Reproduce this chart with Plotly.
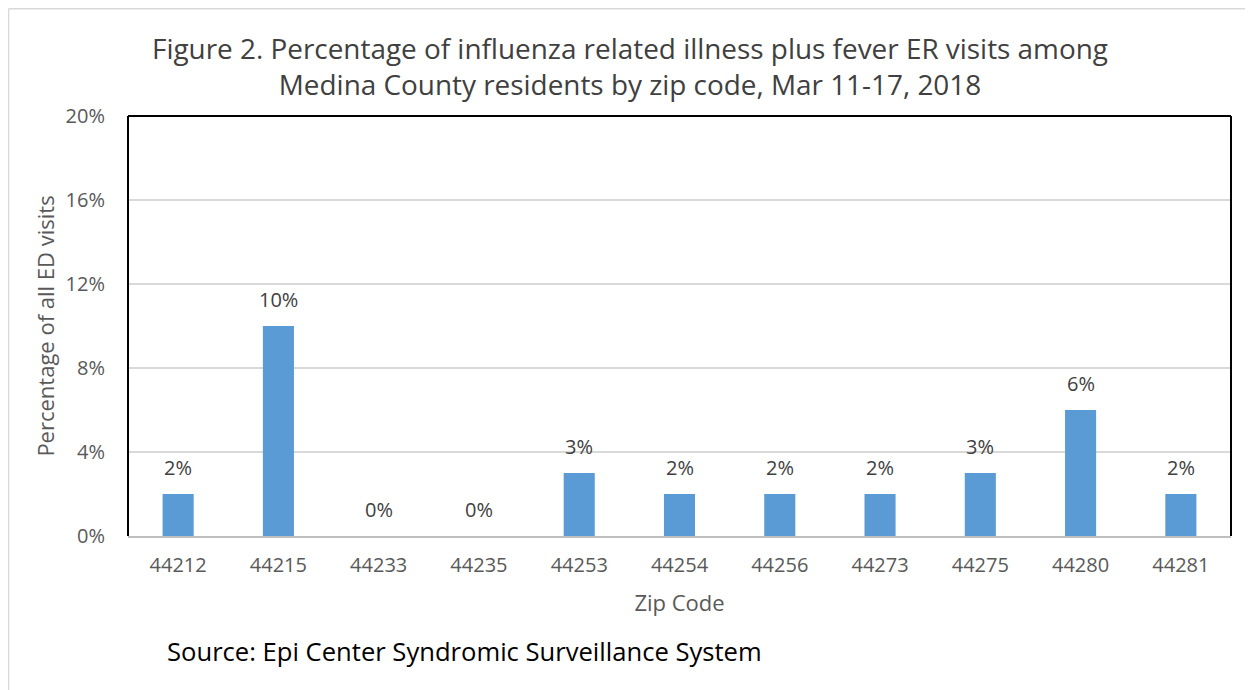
import plotly.graph_objects as go

zip_codes = ["44212", "44215", "44233", "44235", "44253", "44254", "44256", "44273", "44275", "44280", "44281"]
pct_values = [2, 10, 0, 0, 3, 2, 2, 2, 3, 6, 2]
y_ticks = [0, 4, 8, 12, 16, 20]
y_tick_labels = ["0%", "4%", "8%", "12%", "16%", "20%"]
labels = [f"{v}%" for v in pct_values]

FONT = "Open Sans"

fig = go.Figure()
fig.add_trace(go.Bar(
    x=zip_codes, y=pct_values,
    marker=dict(color="#5b9bd5", line=dict(width=0)),
))

# data labels placed at each category's index on the category axis
label_annotations = [
    dict(x=i, y=v, xref="x", yref="y", text=t, showarrow=False, yanchor="middle", yshift=26.5,
         font=dict(family=FONT, size=20, color="#404040"))
    for i, (v, t) in enumerate(zip(pct_values, labels))
]

fig.update_layout(
    width=1245, height=682,
    margin=dict(l=120, r=22, t=108, b=154, autoexpand=False),
    paper_bgcolor="white", plot_bgcolor="white",
    bargap=0.69, showlegend=False,
    font=dict(family=FONT, color="#595959"),
    xaxis=dict(
        type="category", categoryorder="array", categoryarray=zip_codes,
        range=[-0.5, len(zip_codes) - 0.5],
        showgrid=False, showline=True, linecolor="#bfbfbf", linewidth=1.5,
        ticks="", ticklabelstandoff=10, tickfont=dict(family=FONT, size=20, color="#595959"),
        title=dict(text="Zip Code", font=dict(family=FONT, size=22, color="#595959"), standoff=19),
    ),
    yaxis=dict(
        range=[0, 20], tickvals=y_ticks, ticktext=y_tick_labels,
        showgrid=True, gridcolor="#d9d9d9", gridwidth=1.5, zeroline=False,
        showline=False, ticks="", ticklabelstandoff=22,
        tickfont=dict(family=FONT, size=20, color="#595959"),
        title=dict(text="Percentage of all ED visits", font=dict(family=FONT, size=22, color="#595959"), standoff=4),
    ),
    shapes=[
        dict(type="line", xref="paper", yref="paper", x0=0, x1=0, y0=0, y1=1, line=dict(color="black", width=2)),
        dict(type="line", xref="paper", yref="paper", x0=0, x1=1, y0=1, y1=1, line=dict(color="black", width=2)),
        dict(type="line", xref="paper", yref="paper", x0=1, x1=1, y0=0, y1=1, line=dict(color="black", width=2)),
        dict(type="line", xref="paper", yref="paper", x0=-0.1083, x1=1.03, y0=1.2555, y1=1.2555, line=dict(color="#d9d9d9", width=1.5)),
        dict(type="line", xref="paper", yref="paper", x0=-0.1083, x1=-0.1083, y0=-0.4, y1=1.2555, line=dict(color="#d9d9d9", width=1.5)),
    ],
    annotations=label_annotations + [
        dict(text="Figure 2. Percentage of influenza related illness plus fever ER visits among<br>Medina County residents by zip code, Mar 11-17, 2018",
             xref="paper", yref="paper", x=0.455, y=1.212, xanchor="center", yanchor="top", showarrow=False,
             font=dict(family=FONT, size=27.9, color="#404040")),
        dict(text="Source: Epi Center Syndromic Surveillance System", xref="paper", yref="paper",
             x=0.0335, y=-0.274, xanchor="left", yanchor="middle", showarrow=False,
             font=dict(family=FONT, size=25.6, color="black")),
    ],
)

fig.write_html("out.html")
